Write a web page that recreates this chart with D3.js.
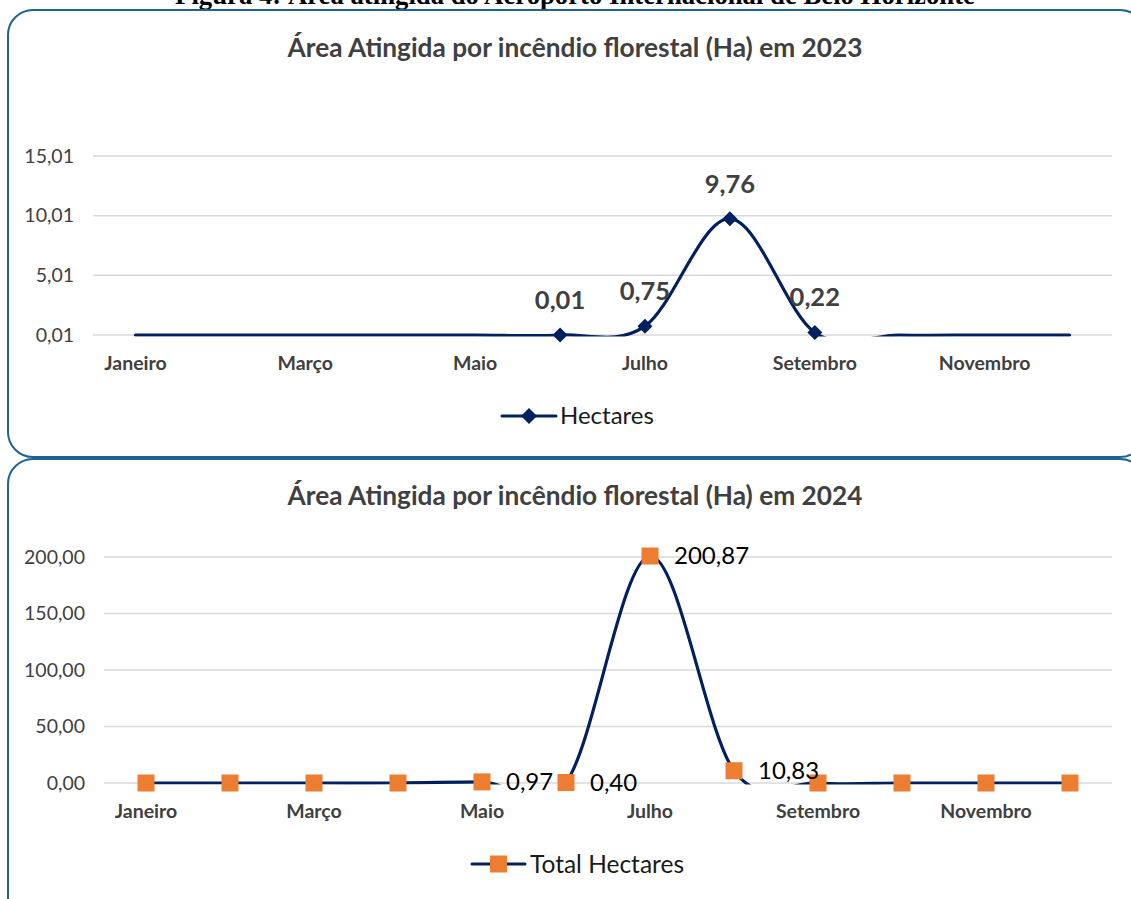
<!DOCTYPE html>
<html>
<head>
<meta charset="utf-8">
<script src="https://cdn.jsdelivr.net/npm/d3@7"></script>
<style>
  html, body { margin: 0; padding: 0; background: #fff; }
  svg { display: block; }
</style>
</head>
<body>
<svg id="fig" width="1131" height="899"></svg>
<script>
// Months on the category axis
const months = ["Janeiro", "Fevereiro", "Março", "Abril", "Maio", "Junho",
                "Julho", "Agosto", "Setembro", "Outubro", "Novembro", "Dezembro"];

// Burned area (ha) per month
const hectares2023 = [0, 0, 0, 0, 0, 0.01, 0.75, 9.76, 0.22, 0, 0, 0];
const hectares2024 = [0, 0, 0, 0, 0.97, 0.40, 200.87, 10.83, 0, 0, 0, 0];

// Value-axis ticks
const ticks2023 = [0.01, 5.01, 10.01, 15.01];
const ticks2024 = [0, 50, 100, 150, 200];

const headerText = "Figura 4: Área atingida do Aeroporto Internacional de Belo Horizonte";
const title2023 = "Área Atingida por incêndio florestal (Ha) em 2023";
const title2024 = "Área Atingida por incêndio florestal (Ha) em 2024";
const legend2023 = "Hectares";
const legend2024 = "Total Hectares";

const ptBR = d3.formatLocale({ decimal: ",", thousands: ".", grouping: [3], currency: ["R$", ""] });
const fmt = ptBR.format(".2f");

const NAVY = "#002060";
const ORANGE = "#ED7D31";
const GRID = "#d9d9d9";
const BORDER = "#1f6390";
const FONT = "Lato, 'Open Sans', sans-serif";

const svg = d3.select("#fig");

// scale a text's font-size so it spans the given width
function fitWidth(sel, width) {
  const node = sel.node();
  const w = node.getComputedTextLength();
  const fs = parseFloat(sel.attr("font-size"));
  sel.attr("font-size", (fs * width / w).toFixed(2));
}

// Caption above the panels (cut by the page top)
const header = svg.append("text")
  .attr("x", 575).attr("y", 4)
  .attr("text-anchor", "middle")
  .attr("font-family", "'Liberation Serif', 'Times New Roman', serif")
  .attr("font-weight", "bold")
  .attr("font-size", 20)
  .attr("fill", "#000")
  .text(headerText);
fitWidth(header, 800);

// Panel frames
svg.append("rect")
  .attr("x", 8).attr("y", 10).attr("width", 1137).attr("height", 447)
  .attr("rx", 25).attr("ry", 25)
  .attr("fill", "none").attr("stroke", BORDER).attr("stroke-width", 2);
svg.append("rect")
  .attr("x", 8).attr("y", 459).attr("width", 1137).attr("height", 470)
  .attr("rx", 25).attr("ry", 25)
  .attr("fill", "none").attr("stroke", BORDER).attr("stroke-width", 2);

function drawPanel(cfg) {
  const g = svg.append("g");

  const x = d3.scaleBand().domain(months).range([cfg.x0, cfg.x1]);
  const cx = m => x(m) + x.bandwidth() / 2;
  const y = d3.scaleLinear().domain(cfg.domain).range([cfg.yBottom, cfg.yTop]);

  // Title
  const t = g.append("text")
    .attr("x", 575).attr("y", cfg.titleY)
    .attr("text-anchor", "middle")
    .attr("dy", "0.35em")
    .attr("font-family", FONT)
    .attr("font-weight", "bold")
    .attr("font-size", 22)
    .attr("fill", "#404040")
    .text(cfg.title);
  fitWidth(t, 575);

  // Horizontal gridlines
  g.append("g")
    .selectAll("line")
    .data(cfg.ticks)
    .join("line")
    .attr("x1", cfg.x0).attr("x2", cfg.x1)
    .attr("y1", d => y(d)).attr("y2", d => y(d))
    .attr("stroke", GRID).attr("stroke-width", 1.5);

  // Value axis labels
  const yAxis = d3.axisLeft(y).tickValues(cfg.ticks).tickFormat(fmt).tickSize(0).tickPadding(0);
  const ya = g.append("g")
    .attr("transform", `translate(${cfg.yLabelX},0)`)
    .call(yAxis);
  ya.select(".domain").remove();
  ya.selectAll("text")
    .attr("font-family", FONT)
    .attr("font-size", 19.5)
    .attr("fill", "#404040");

  // Category axis labels (every other month)
  const xAxis = d3.axisBottom(x)
    .tickValues(months.filter((m, i) => i % 2 === 0))
    .tickSize(0).tickPadding(0);
  const xa = g.append("g")
    .attr("transform", `translate(0,${cfg.xLabelY})`)
    .call(xAxis);
  xa.select(".domain").remove();
  xa.selectAll("text")
    .attr("dy", "0.35em")
    .attr("y", 0)
    .attr("font-family", FONT)
    .attr("font-weight", "bold")
    .attr("font-size", 19.5)
    .attr("fill", "#404040");

  // Smoothed line, clipped to the plot area
  const clipId = "clip" + cfg.id;
  svg.append("clipPath").attr("id", clipId)
    .append("rect")
    .attr("x", cfg.x0 - 10).attr("y", cfg.yTop - 20)
    .attr("width", cfg.x1 - cfg.x0 + 20)
    .attr("height", cfg.yBottom - cfg.yTop + 21.5);

  const pts = cfg.values.map((v, i) => ({ m: months[i], v }));
  const line = d3.line()
    .x(d => cx(d.m))
    .y(d => y(d.v))
    .curve(d3.curveCardinal.tension(0));

  g.append("path")
    .datum(pts)
    .attr("clip-path", `url(#${clipId})`)
    .attr("d", line)
    .attr("fill", "none")
    .attr("stroke", NAVY)
    .attr("stroke-width", 3.2)
    .attr("stroke-linejoin", "round")
    .attr("stroke-linecap", "round");

  cfg.drawMarkers(g, pts, cx, y);
  cfg.drawLabels(g, pts, cx, y);
  cfg.drawLegend(g);
}

function diamond(sel, r) {
  return sel.attr("d", `M0,${-r}L${r},0L0,${r}L${-r},0Z`);
}

// 2023 panel
drawPanel({
  id: "2023",
  title: title2023,
  titleY: 48,
  x0: 93, x1: 1112,
  yTop: 156, yBottom: 335,
  domain: [0.01, 15.01],
  ticks: ticks2023,
  yLabelX: 74,
  xLabelY: 363,
  values: hectares2023,
  drawMarkers(g, pts, cx, y) {
    g.append("g").selectAll("path")
      .data(pts.filter(d => d.v > 0))
      .join("path")
      .call(diamond, 7.5)
      .attr("transform", d => `translate(${cx(d.m)},${y(d.v)})`)
      .attr("fill", NAVY);
  },
  drawLabels(g, pts, cx, y) {
    g.append("g").selectAll("text")
      .data(pts.filter(d => d.v > 0))
      .join("text")
      .attr("x", d => cx(d.m))
      .attr("y", d => y(d.v) - 35)
      .attr("dy", "0.35em")
      .attr("text-anchor", "middle")
      .attr("font-family", FONT)
      .attr("font-weight", "bold")
      .attr("font-size", 25.5)
      .attr("fill", "#404040")
      .text(d => fmt(d.v));
  },
  drawLegend(g) {
    const lg = g.append("g").attr("transform", "translate(0,416)");
    lg.append("line").attr("x1", 502).attr("x2", 556)
      .attr("stroke", NAVY).attr("stroke-width", 3).attr("stroke-linecap", "round");
    lg.append("path").call(diamond, 8).attr("transform", "translate(529,0)").attr("fill", NAVY);
    lg.append("text").attr("x", 560).attr("dy", "0.35em")
      .attr("font-family", FONT).attr("font-size", 24).attr("fill", "#1a1a1a")
      .text(legend2023);
  }
});

// 2024 panel
drawPanel({
  id: "2024",
  title: title2024,
  titleY: 496,
  x0: 104, x1: 1112,
  yTop: 557, yBottom: 783,
  domain: [0, 200],
  ticks: ticks2024,
  yLabelX: 85,
  xLabelY: 811,
  values: hectares2024,
  drawMarkers(g, pts, cx, y) {
    const s = 17;
    g.append("g").selectAll("rect")
      .data(pts)
      .join("rect")
      .attr("x", d => cx(d.m) - s / 2)
      .attr("y", d => y(d.v) - s / 2)
      .attr("width", s).attr("height", s)
      .attr("fill", ORANGE);
  },
  drawLabels(g, pts, cx, y) {
    g.append("g").selectAll("text")
      .data(pts.filter(d => d.v > 0))
      .join("text")
      .attr("x", d => cx(d.m) + 24)
      .attr("y", d => y(d.v))
      .attr("dy", "0.35em")
      .attr("font-family", FONT)
      .attr("font-size", 24)
      .attr("fill", "#000")
      .text(d => fmt(d.v));
  },
  drawLegend(g) {
    const lg = g.append("g").attr("transform", "translate(0,864)");
    lg.append("line").attr("x1", 472).attr("x2", 525)
      .attr("stroke", NAVY).attr("stroke-width", 3).attr("stroke-linecap", "round");
    lg.append("rect").attr("x", 490).attr("y", -8.5).attr("width", 17).attr("height", 17).attr("fill", ORANGE);
    lg.append("text").attr("x", 530).attr("dy", "0.35em")
      .attr("font-family", FONT).attr("font-size", 24.5).attr("fill", "#1a1a1a")
      .text(legend2024);
  }
});
</script>
</body>
</html>
